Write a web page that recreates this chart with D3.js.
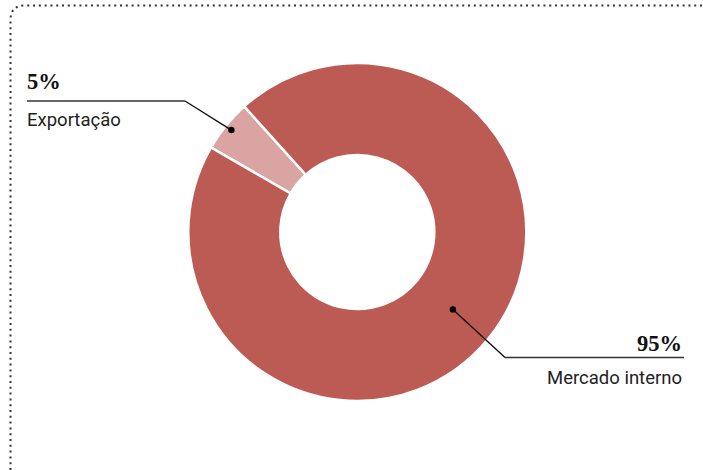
<!DOCTYPE html>
<html>
<head>
<meta charset="utf-8">
<script src="https://cdn.jsdelivr.net/npm/d3@7"></script>
<style>
html,body{margin:0;padding:0;background:#fff;}
svg{display:block;}
</style>
</head>
<body>
<svg id="chart" width="703" height="470"></svg>
<script>
const categories = ["Exportação", "Mercado interno"];
const values = [5, 95];
const valueLabels = ["5%", "95%"];
const colors = ["#d9a4a2", "#bc5b53"];

const svg = d3.select("#chart");
const W = 703, H = 470;

// dotted frame
svg.append("path")
  .attr("d", "M10.5,470 V20 Q10.5,5.5 25,5.5 H703")
  .attr("fill", "none")
  .attr("stroke", "#333")
  .attr("stroke-width", 2)
  .attr("stroke-dasharray", "2,3.8");

const cx = 357.3, cy = 232, rOuter = 169, rInner = 77;
const g = svg.append("g").attr("transform", `translate(${cx},${cy})`);

const deg = Math.PI / 180;
const pie = d3.pie().sort(null).startAngle(-60 * deg).endAngle(300 * deg);
const arcs = pie(values);
const arc = d3.arc().innerRadius(rInner).outerRadius(rOuter);

g.selectAll("path.slice")
  .data(arcs)
  .join("path")
  .attr("class", "slice")
  .attr("d", arc)
  .attr("fill", (d, i) => colors[i])
  .attr("stroke", "#fff")
  .attr("stroke-width", 2.5);

// leader anchors
const anchorArcs = [
  d3.arc().innerRadius(162).outerRadius(162),
  d3.arc().innerRadius(123).outerRadius(123)
];
const elbows = [[185 - cx, 101 - cy], [505 - cx, 357.5 - cy]];
const ends = [27 - cx, 684 - cx];

arcs.forEach((d, i) => {
  const p = anchorArcs[i].centroid(d);
  const e = elbows[i];
  g.append("path")
    .attr("d", `M${p[0]},${p[1]} L${e[0]},${e[1]}`)
    .attr("fill", "none").attr("stroke", "#111").attr("stroke-width", 1.4);
  g.append("path")
    .attr("d", `M${e[0]},${e[1]} H${ends[i]}`)
    .attr("fill", "none").attr("stroke", "#333").attr("stroke-width", 1.6);
  g.append("circle").attr("cx", p[0]).attr("cy", p[1]).attr("r", 3.2).attr("fill", "#000");
});

// labels
const labelPos = [
  {x: 27, y1: 89, y2: 126, anchor: "start"},
  {x: 682, y1: 350.5, y2: 383.5, anchor: "end"}
];
labelPos.forEach((lp, i) => {
  svg.append("text")
    .attr("x", lp.x).attr("y", lp.y1)
    .attr("text-anchor", lp.anchor)
    .attr("font-family", "'Liberation Serif', 'DejaVu Serif', serif")
    .attr("font-weight", "bold")
    .attr("font-size", 22.5)
    .attr("fill", "#111")
    .text(valueLabels[i]);
  svg.append("text")
    .attr("x", lp.x).attr("y", lp.y2)
    .attr("text-anchor", lp.anchor)
    .attr("font-family", "Roboto, 'Noto Sans', sans-serif")
    .attr("font-size", 18.5)
    .attr("fill", "#222")
    .text(categories[i]);
});
</script>
</body>
</html>
